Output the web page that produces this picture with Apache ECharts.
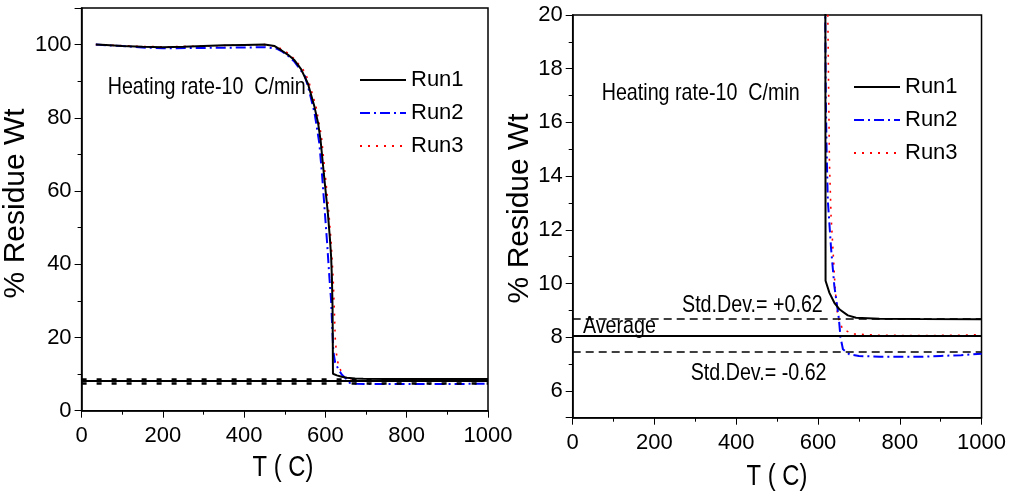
<!DOCTYPE html>
<html><head><meta charset="utf-8">
<script src="https://cdn.jsdelivr.net/npm/echarts@6/dist/echarts.min.js"></script>
<style>html,body{margin:0;padding:0;background:#fff}#c{width:1009px;height:492px}</style>
</head><body><div id="c"></div>
<script>
// ---------- data ----------
const runNames = ['Run1', 'Run2', 'Run3'];
const run1 = [[35,100.0],[60,99.9],[100,99.6],[150,99.4],[200,99.3],[250,99.4],[300,99.6],[350,99.8],[400,99.9],[450,100.0],[475,99.6],[492,98.4],[508,97.2],[524,95.7],[540,93.3],[557,89.3],[573,83.0],[582,78.5],[588,73.9],[596,64.8],[606,53.9],[611,47],[614,42],[616,36],[617.5,28],[618,20],[618.5,10.1],[628,9.65],[640,9.28],[653,9.03],[673,8.81],[693,8.72],[750,8.69],[850,8.68],[1000,8.67]];
const run2 = [[35,100.0],[100,99.6],[150,99.2],[200,99.0],[300,99.1],[400,99.2],[450,99.3],[480,98.9],[495,98.0],[510,96.8],[524,95.3],[549,91.5],[557,88.6],[573,81.5],[585,73],[592,64],[598,55],[604,46],[610,36],[614,30],[617,22],[619,17],[621,15],[624,13.1],[632,11.3],[640,9.9],[651,8.7],[655,8.0],[661,7.55],[677,7.36],[700,7.3],[750,7.27],[850,7.27],[900,7.3],[950,7.33],[1000,7.38]];
const run3 = [[35,100.0],[100,99.7],[150,99.5],[200,99.4],[300,99.6],[400,99.9],[450,100.0],[480,99.5],[495,98.6],[510,97.5],[524,96.0],[549,92.6],[560,89.5],[577,83],[590,75],[598,66],[607,56],[614,46],[619,36],[622,27],[624,20],[628,14.5],[632,12.5],[638,10.9],[642,9.8],[648,8.8],[660,8.3],[685,8.12],[750,8.07],[850,8.06],[950,8.07],[1000,8.1]];
const average = 8.07;
const stdDev = 0.62;
const xTicks = [0, 200, 400, 600, 800, 1000];
const leftYTicks = [0, 20, 40, 60, 80, 100];
const rightYTicks = [6, 8, 10, 12, 14, 16, 18, 20];
const annotationText = 'Heating rate-10  C/min';
const avgLabel = 'Average';
const plusLabel = 'Std.Dev.= +0.62';
const minusLabel = 'Std.Dev.= -0.62';
const xName = 'T ( C)';
const yName = '% Residue Wt';

// ---------- styles ----------
const FONT = "'Liberation Sans',Arial,Helvetica,sans-serif";
const runStyles = [
  {color:'#000000', width:2, type:'solid'},
  {color:'#0000ff', width:2, type:[10,4,2,4]},
  {color:'#ff0000', width:1.6, type:[2,6]}
];
const runData = [run1, run2, run3];

function xAxisDef(gi) {
  return {
    gridIndex: gi, type:'value', min:0, max:1000, interval:200,
    axisLine:{show:true, onZero:false, lineStyle:{color:'#000', width:1.5}},
    axisTick:{show:true, length:7, lineStyle:{color:'#000', width:1}},
    minorTick:{show:true, splitNumber:2, length:4, lineStyle:{color:'#000', width:1}},
    splitLine:{show:false},
    axisLabel:{margin:14, fontFamily:FONT, fontSize:22, color:'#000',
      formatter: v => xTicks.includes(v) ? String(v) : ''}
  };
}
function yAxisDef(gi, min, max, extra, ticks, pad, gap) {
  return Object.assign({
    gridIndex: gi, type:'value', min:min, max:max,
    name: yName, nameLocation:'middle', nameGap: gap,
    nameTextStyle:{fontFamily:FONT, fontSize:30, color:'#000', padding:[0,0,0,pad]},
    axisLine:{show:true, onZero:false, lineStyle:{color:'#000', width:1.5}},
    axisTick:{show:true, length:7, lineStyle:{color:'#000', width:1}},
    minorTick:{show:true, splitNumber:2, length:4, lineStyle:{color:'#000', width:1}},
    splitLine:{show:false},
    axisLabel:{margin:10, fontFamily:FONT, fontSize:22, color:'#000',
      formatter: v => ticks.includes(v) ? String(v) : ''}
  }, extra);
}

const series = [];
[0,1].forEach(gi => {
  [2,1,0].forEach(i => {
    series.push({
      name: runNames[i], type:'line', xAxisIndex:gi, yAxisIndex:gi,
      data: runData[i], showSymbol:false, symbol:'none', clip:true,
      lineStyle: runStyles[i], itemStyle:{color:runStyles[i].color},
      z: 3 + (2-i)
    });
  });
  const dashW = gi === 0 ? 2.5 : 1.5;
  const dashT = gi === 0 ? [5,10] : [8,5];
  series.push({
    name:'refLines', type:'line', xAxisIndex:gi, yAxisIndex:gi, data:[], z:2,
    markLine:{
      silent:true, symbol:['none','none'], label:{show:false}, animation:false,
      data:[
        {yAxis: average, lineStyle:{color:'#000', type:'solid', width:2}},
        {yAxis: +(average + stdDev).toFixed(2), lineStyle:{color:'#000', type:dashT, width:dashW}},
        {yAxis: +(average - stdDev).toFixed(2), lineStyle:{color:'#000', type:dashT, width:dashW}}
      ]
    }
  });
});

function legendDef(left, top) {
  return {
    data: runNames, orient:'vertical', left:left, top:top,
    itemWidth:46, itemHeight:14, itemGap:9, padding:0,
    textStyle:{fontFamily:FONT, fontSize:22, color:'#000', lineHeight:24},
    itemStyle:{opacity:0}
  };
}

// narrow-looking text (condensed horizontally)
function txt(x, y, s, size, align) {
  return {type:'text', x:x, y:y, scaleX:0.82, silent:true,
    style:{text:s, fill:'#000', font:size + "px " + FONT, textAlign:align || 'left', textVerticalAlign:'middle'}};
}

const option = {
  animation:false,
  backgroundColor:'#fff',
  grid:[
    {left:78, top:8, width:410, height:402.7, show:true, borderColor:'#000', borderWidth:1.5, containLabel:false},
    {left:572.7, top:15, width:409.6, height:402.7, show:true, borderColor:'#000', borderWidth:1.5, containLabel:false}
  ],
  xAxis:[xAxisDef(0), xAxisDef(1)],
  yAxis:[
    yAxisDef(0, 0, 110, {interval:20}, leftYTicks, 12, 35),
    yAxisDef(1, 5, 20, {splitNumber:7}, rightYTicks, 16, 16)
  ],
  legend:[legendDef(359, 68), legendDef(853, 75)],
  series: series,
  graphic:[
    txt(107.7, 87, annotationText, 24),
    txt(601.7, 93, annotationText, 24),
    txt(682, 305, plusLabel, 24),
    txt(583, 326, avgLabel, 24),
    txt(690.7, 373, minusLabel, 24),
    txt(283, 468, xName, 29, 'center'),
    txt(777, 477, xName, 29, 'center')
  ]
};
const chart = echarts.init(document.getElementById('c'), null, {renderer:'canvas'});
chart.setOption(option);
</script>
</body></html>
